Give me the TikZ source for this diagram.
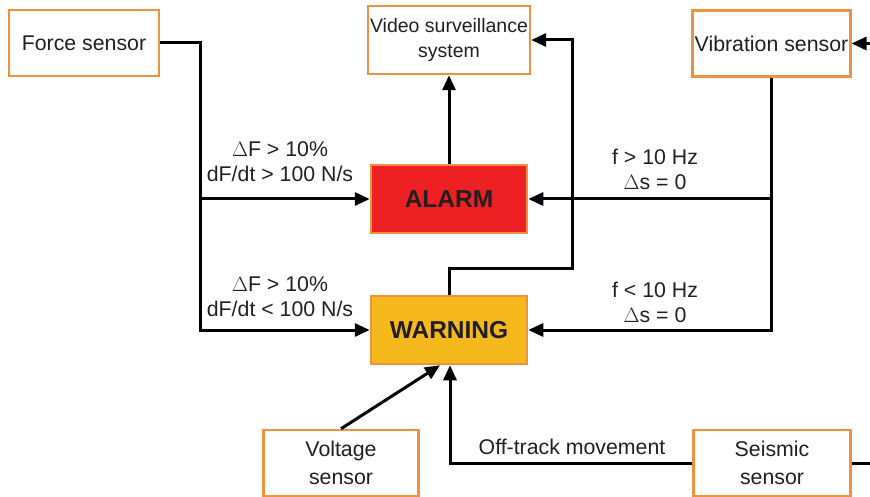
\documentclass[tikz,border=0pt]{standalone}
\usepackage{fontspec}
\setmainfont{Liberation Sans}
\usetikzlibrary{arrows.meta, positioning, calc}
\definecolor{cBorder}{RGB}{240,145,60}
\definecolor{cRed}{RGB}{237,32,36}
\definecolor{cYellow}{RGB}{245,185,30}
\definecolor{cText}{RGB}{35,31,32}
\tikzset{
	sensor/.style ={rectangle, draw=cBorder, line width=2.5pt, fill=white, align=center, text=cText, inner sep=2pt},
	state/.style  ={rectangle, draw=cBorder, line width=2.5pt, minimum width=156pt, minimum height=68pt, align=center, text=cText, font=\fontsize{24.5}{28}\selectfont\bfseries},
	cond/.style   ={align=center, text=cText, font=\fontsize{21.3}{25}\selectfont},
	sig/.style    ={-{Triangle[length=15pt, width=13pt]}, line width=3pt},
	wire/.style   ={line width=3pt},
}

\begin{document}
\begin{tikzpicture}[x=1pt, y=-1pt, font=\fontsize{21.3}{28}\selectfont]
	\useasboundingbox (0,0) rectangle (870,497);
	% sensors and outputs
	\node[sensor, minimum width=150pt, minimum height=66pt] (force) at (84,43) {Force sensor};
	\node[sensor, minimum width=160pt, minimum height=68pt, font=\fontsize{19.5}{25}\selectfont] (video) at (449,40) {Video surveillance\\system};
	\node[sensor, minimum width=155pt, minimum height=66pt] (vib) at (771.5,43.5) {Vibration sensor};
	\node[state, fill=cRed] (alarm) at (449,199) {ALARM};
	\node[state, fill=cYellow] (warn) at (449,330) {WARNING};
	\node[sensor, minimum width=155pt, minimum height=66pt] (volt) at (341,463) {Voltage\\sensor};
	\node[sensor, minimum width=157pt, minimum height=66pt] (seis) at (772,463) {Seismic\\sensor};
	% bus points
	\coordinate (fbus) at (200,43);
	\coordinate (wbus) at (572,268);
	\coordinate (vin) at (870,43.5);
	\coordinate (sout) at (870,463);
	% force sensor
	\draw[sig] (force.east) -| (fbus |- warn.west) -- (warn.west);
	\draw[sig] (fbus |- alarm.west) -- (alarm.west);
	% vibration sensor
	\draw[sig] (vin) -- (vib.east);
	\draw[sig] (vib.south) |- (warn.east);
	\draw[sig] (vib.south |- alarm.east) -- (alarm.east);
	% to video
	\draw[sig] (alarm.north) -- (video.south);
	\draw[sig] (warn.north) |- (wbus) |- (video.east);
	% lower sensors
	\draw[sig] (volt.north) -- ([xshift=-9pt]warn.south);
	\draw[sig] (seis.west) -| ([xshift=1pt]warn.south);
	\draw[wire] (seis.east) -- (sout);
	% conditions
	\node[cond] at (280,162) {$\Delta$F > 10\%\\dF/dt > 100 N/s};
	\node[cond] at (280,297) {$\Delta$F > 10\%\\dF/dt < 100 N/s};
	\node[cond] at (655,169) {f > 10 Hz\\$\Delta$s = 0};
	\node[cond] at (655,302) {f < 10 Hz\\$\Delta$s = 0};
	\node[cond] at (572,447) {Off-track movement};
\end{tikzpicture}
\end{document}
